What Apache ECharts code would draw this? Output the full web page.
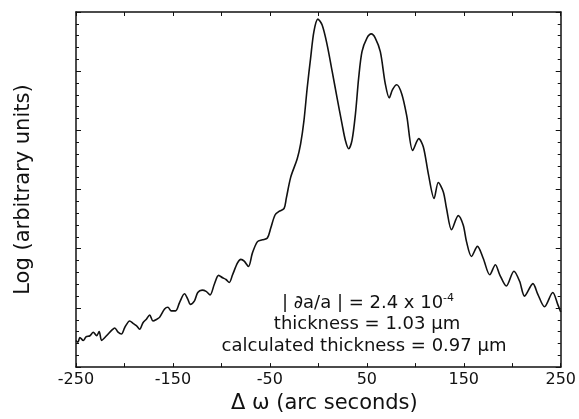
<!DOCTYPE html>
<html>
<head>
<meta charset="utf-8">
<script src="https://cdn.jsdelivr.net/npm/echarts@6/dist/echarts.min.js"></script>
<style>
html,body{margin:0;padding:0;background:#fff;}
#chart{width:579px;height:419px;}
</style>
</head>
<body>
<div id="chart"></div>
<script>
// Δω (arc seconds)
const omega = [-250,-248,-246,-242.5,-239.7,-235.6,-232.2,-228.7,-226.1,-223.6,-220.2,-216.8,-213.3,-210,-206.6,-203.1,-199.7,-194.6,-191.2,-187.7,-184.3,-180.9,-177.4,-174,-170.6,-166.5,-163.8,-158.6,-155.2,-151.7,-147.3,-143.2,-138.1,-134.7,-132.2,-127.8,-124.4,-119.9,-115.8,-111.7,-107.3,-102.9,-98.8,-95.3,-91.9,-88.5,-83.4,-79.9,-76.5,-72.1,-68,-62.8,-57.7,-52.6,-49.1,-44.7,-40.6,-35.4,-33.1,-28.5,-21.8,-18.3,-14.9,-11.5,-8,-4.6,-0.5,3.9,9,14.2,19.3,24.4,27.9,31.3,34.7,38.2,41.6,45,50.1,54.6,58.7,63.9,69,73.1,76.5,80.9,86.1,91.2,97.3,103.6,108.3,113.4,119.4,123.7,128.9,132.2,137.4,144.3,149.4,152.8,157.9,164.1,170,176.8,182.6,187.1,193.9,201.7,207.6,212.7,221.3,226.4,233.3,241.8,246.9,250];
// Log intensity (arbitrary units)
const logIntensity = [0.45,0.42,0.50,0.45,0.51,0.53,0.59,0.53,0.60,0.45,0.50,0.56,0.62,0.66,0.59,0.56,0.67,0.78,0.74,0.70,0.64,0.75,0.81,0.88,0.78,0.81,0.84,0.98,1.01,0.95,0.95,1.09,1.24,1.15,1.06,1.12,1.26,1.30,1.28,1.22,1.40,1.55,1.51,1.48,1.43,1.56,1.76,1.82,1.79,1.70,1.93,2.12,2.15,2.18,2.35,2.57,2.63,2.68,2.85,3.21,3.52,3.77,4.16,4.72,5.22,5.67,5.88,5.78,5.45,5.00,4.55,4.11,3.83,3.69,3.83,4.27,4.89,5.33,5.56,5.63,5.56,5.33,4.79,4.55,4.69,4.77,4.61,4.24,3.66,3.86,3.72,3.27,2.85,3.12,2.96,2.68,2.32,2.56,2.40,2.12,1.87,2.04,1.84,1.56,1.73,1.56,1.37,1.62,1.45,1.20,1.41,1.23,1.02,1.26,1.06,0.93];
// x tick labels shown
const xTickLabels = [-250,-150,-50,50,150,250];
const annotationLines = ['| ∂a/a | = 2.4 x 10', 'thickness = 1.03 µm', 'calculated thickness = 0.97 µm'];
const annotationSup = '-4';

const FONT = 'DejaVu Sans';
const INK = '#111';
const chart = echarts.init(document.getElementById('chart'), null, {renderer:'canvas'});

const axisLine = {show:true, onZero:false, lineStyle:{color:INK, width:1.5}};
const option = {
  animation:false,
  backgroundColor:'#fff',
  grid:{left:76, right:16, top:12, bottom:49, containLabel:false},
  xAxis:[
    {type:'value', position:'bottom', min:-250, max:250, interval:50,
     axisLine, splitLine:{show:false},
     axisTick:{show:true, inside:true, length:4, lineStyle:{color:INK, width:1}},
     axisLabel:{show:true, margin:5, color:INK, fontFamily:FONT, fontSize:16,
       formatter:v => xTickLabels.indexOf(v) >= 0 ? String(v) : ''},
     name:'Δ ω (arc seconds)', nameLocation:'middle', nameGap:22,
     nameTextStyle:{color:INK, fontFamily:FONT, fontSize:21, padding:[0,0,0,12]}},
    {type:'value', position:'top', min:-250, max:250, interval:50,
     axisLine, splitLine:{show:false},
     axisTick:{show:true, inside:true, length:4, lineStyle:{color:INK, width:1}},
     axisLabel:{show:false}}
  ],
  yAxis:[
    {type:'value', position:'left', min:0, max:6, interval:1,
     axisLine, splitLine:{show:false},
     axisTick:{show:true, inside:true, length:5, lineStyle:{color:INK, width:1}},
     minorTick:{show:true, splitNumber:5, length:3, lineStyle:{color:INK, width:1}},
     axisLabel:{show:false},
     name:'Log (arbitrary units)', nameLocation:'middle', nameGap:42,
     nameTextStyle:{color:INK, fontFamily:FONT, fontSize:21}},
    {type:'value', position:'right', min:0, max:6, interval:1,
     axisLine, splitLine:{show:false},
     axisTick:{show:true, inside:true, length:5, lineStyle:{color:INK, width:1}},
     minorTick:{show:true, splitNumber:5, length:3, lineStyle:{color:INK, width:1}},
     axisLabel:{show:false}}
  ],
  series:[{
    type:'line', xAxisIndex:0, yAxisIndex:0,
    data: omega.map((x,i)=>[x, logIntensity[i]]),
    showSymbol:false, smooth:0.3,
    lineStyle:{color:INK, width:1.6}
  }],
  graphic:[
    {type:'text', x:368, y:303, style:{
      text:'{n|'+annotationLines[0]+'}{s|'+annotationSup+'}',
      align:'center', verticalAlign:'middle',
      rich:{n:{fontFamily:FONT, fontSize:18, fill:INK, lineHeight:22},
            s:{fontFamily:FONT, fontSize:11, fill:INK, lineHeight:22, padding:[0,0,10,0]}}}},
    {type:'text', x:367, y:324, style:{text:annotationLines[1], align:'center', verticalAlign:'middle',
      fontFamily:FONT, fontSize:18, fill:INK}},
    {type:'text', x:364, y:346, style:{text:annotationLines[2], align:'center', verticalAlign:'middle',
      fontFamily:FONT, fontSize:18, fill:INK}}
  ]
};
chart.setOption(option);
</script>
</body>
</html>
